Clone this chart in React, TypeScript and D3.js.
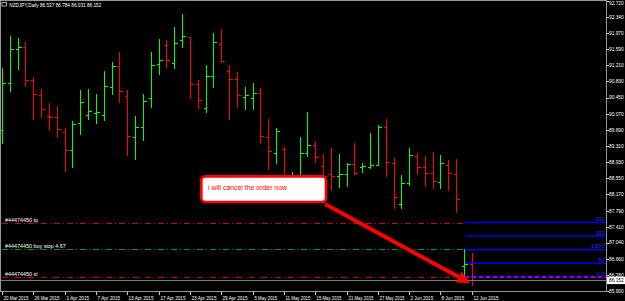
import React, { useEffect } from "react";
import * as d3 from "d3";

const title = "NZDJPY,Daily  86.537 86.784 86.031 86.152";
const opens = [89.686, 90.784, 91.584, 91.631, 90.855, 90.502, 90.015, 89.999, 89.632, 89.209, 89.858, 90.039, 90.086, 90.039, 90.705, 91.198, 90.493, 89.529, 89.750, 90.432, 91.238, 91.678, 91.255, 91.796, 91.866, 90.768, 90.197, 90.949, 91.716, 91.074, 90.879, 90.455, 90.432, 90.563, 89.529, 89.138, 89.239, 88.228, 88.463, 89.138, 89.326, 88.847, 88.640, 88.604, 88.644, 88.886, 88.809, 88.809, 88.870, 89.764, 88.910, 87.953, 88.447, 89.075, 88.816, 88.668, 88.456, 88.863, 88.651, 86.488, 86.537];
const highs = [91.137, 91.897, 91.850, 91.763, 90.926, 90.657, 90.321, 90.250, 89.733, 89.905, 90.627, 90.650, 90.526, 91.074, 91.278, 91.521, 90.627, 90.015, 90.533, 91.521, 91.819, 91.803, 92.101, 92.414, 91.880, 90.862, 91.208, 91.974, 92.062, 91.208, 91.050, 90.705, 90.784, 90.681, 89.952, 89.740, 89.293, 88.706, 89.515, 90.102, 89.420, 89.115, 89.270, 89.115, 88.910, 89.380, 88.910, 89.616, 89.804, 89.945, 89.021, 88.628, 89.263, 89.138, 89.075, 89.169, 89.098, 88.980, 89.004, 86.880, 86.784];
const lows = [89.387, 90.610, 91.114, 90.728, 89.938, 89.985, 89.693, 89.529, 88.729, 88.809, 89.592, 89.938, 89.858, 89.921, 90.540, 90.345, 89.105, 89.011, 89.451, 90.227, 90.996, 91.175, 91.151, 91.631, 90.446, 90.211, 90.117, 90.705, 91.292, 89.938, 90.234, 90.173, 90.180, 89.387, 88.762, 88.917, 88.087, 88.063, 88.322, 89.075, 88.934, 88.228, 88.275, 88.353, 88.376, 88.658, 88.706, 88.785, 88.863, 88.611, 87.859, 87.859, 88.393, 88.651, 88.369, 88.315, 88.315, 88.275, 87.765, 86.236, 86.031];
const closes = [90.784, 91.598, 91.631, 90.855, 90.526, 90.173, 89.999, 89.717, 89.209, 89.834, 90.338, 90.126, 90.102, 90.714, 91.198, 90.603, 89.538, 89.750, 90.361, 91.222, 91.325, 91.325, 91.732, 91.897, 90.768, 90.385, 90.963, 91.749, 91.309, 90.879, 90.516, 90.502, 90.563, 89.545, 89.199, 89.663, 88.228, 88.463, 89.138, 89.326, 89.058, 88.604, 88.616, 88.651, 88.886, 88.682, 88.832, 88.870, 89.764, 88.922, 88.117, 88.447, 89.091, 88.823, 88.668, 88.494, 88.903, 88.668, 88.056, 86.537, 86.152];

const dateLabels = ["20 Mar 2015", "26 Mar 2015", "1 Apr 2015", "7 Apr 2015", "13 Apr 2015", "17 Apr 2015", "23 Apr 2015", "29 Apr 2015", "5 May 2015", "11 May 2015", "15 May 2015", "21 May 2015", "27 May 2015", "2 Jun 2015", "8 Jun 2015", "12 Jun 2015"];
const priceTicks = [92.72, 92.34, 91.97, 91.59, 91.21, 90.83, 90.45, 90.07, 89.69, 89.31, 88.93, 88.55, 88.17, 87.79, 87.41, 87.04, 86.66, 86.28, 85.9];

const orderNames = ["#44474450 tp", "#44474450 buy stop 4.67", "#44474450 sl"];
const orderPrices = [87.492, 86.876, 86.222];
const orderColors = ["#d00000", "#00a000", "#d00000"];

const fibLevels = [0, 50, 100, 150, 200];
const fibLabels = ["0.0", "50", "100.0", "150", "200"];
const fibAnchors = [86.229, 86.871];

const bidPrice = 86.152;
const note = "i will cancel the order now";

const W = 625, H = 301;
const FONT = "'Liberation Sans', Arial, sans-serif";

export default function App() {
  useEffect(() => {
    document.body.style.margin = "0";
    document.body.style.background = "#000";
  }, []);

  const x = d3.scaleLinear().domain([0, 60]).range([2, 471.8]);
  const y = d3.scaleLinear().domain([85.9, 92.72]).range([291, 1]);
  const sx = (i: number) => Math.round(x(i)) + 0.5;
  const sy = (p: number) => Math.round(y(p)) + 0.5;

  const axisX = 606.5;
  const bottomY = 291.5;
  const fibStart = x(59) + 1;
  const fibPrice = (lvl: number) => fibAnchors[0] + (lvl / 100) * (fibAnchors[1] - fibAnchors[0]);

  const ax0 = 325, ay0 = 204;
  const ax1 = x(59.8), ay1 = y(86.08);
  const ang = Math.atan2(ay1 - ay0, ax1 - ax0);
  const headL = 13, headW = 6;
  const bx = ax1 - headL * Math.cos(ang), by = ay1 - headL * Math.sin(ang);
  const head = [
    [ax1, ay1],
    [bx + headW * Math.sin(ang), by - headW * Math.cos(ang)],
    [bx - headW * Math.sin(ang), by + headW * Math.cos(ang)],
  ];

  return (
    <svg width={W} height={H} style={{ display: "block", background: "#000" }} fontFamily={FONT}>
      <rect x={0} y={0} width={W} height={H} fill="#000" />
      <line x1={0} x2={axisX} y1={0.5} y2={0.5} stroke="#9a9a9a" />
      <line x1={0.5} x2={0.5} y1={0} y2={bottomY} stroke="#9a9a9a" />
      <line x1={0} x2={axisX} y1={bottomY} y2={bottomY} stroke="#9a9a9a" />
      <line x1={axisX} x2={axisX} y1={0} y2={bottomY} stroke="#9a9a9a" />

      <rect x={2} y={2.5} width={4.5} height={3.5} fill="none" stroke="#d0d0d0" strokeWidth={0.8} />
      <text x={9.3} y={6.6} fontSize={5.6} fill="#ffffff" textLength={92} lengthAdjust="spacingAndGlyphs">{title}</text>

      <g shapeRendering="crispEdges">
        {opens.map((o, i) => {
          const c = closes[i];
          const col = c >= o ? "#00ff00" : "#ff0000";
          const px = sx(i);
          return (
            <g key={i} stroke={col} strokeWidth={1}>
              <line x1={px} x2={px} y1={Math.round(y(highs[i]))} y2={Math.round(y(lows[i])) + 1} />
              <line x1={px - 3} x2={px} y1={sy(o)} y2={sy(o)} />
              <line x1={px} x2={px + 3} y1={sy(c)} y2={sy(c)} />
            </g>
          );
        })}
      </g>

      {orderPrices.map((p, i) => (
        <g key={i}>
          <line x1={2} x2={fibStart} y1={sy(p)} y2={sy(p)} stroke={orderColors[i]} strokeDasharray="6,3,1,3" shapeRendering="crispEdges" />
          <text x={5} y={sy(p) - 2} fontSize={5.4} fill="#ffffff">{orderNames[i]}</text>
        </g>
      ))}

      {fibLevels.map((lvl, i) => {
        const py = y(fibPrice(lvl));
        return (
          <g key={i}>
            <line x1={fibStart} x2={axisX - 0.5} y1={py} y2={py} stroke="#0000e6" strokeWidth={1.5} />
            <text x={604.5} y={py - 1.5} fontSize={5.4} fill="#2a2aff" textAnchor="end">{fibLabels[i]}</text>
          </g>
        );
      })}
      <line x1={fibStart} x2={axisX - 0.5} y1={y(fibPrice(0))} y2={y(fibPrice(0))} stroke="#e000c8" strokeWidth={1.5} strokeDasharray="4,3" />
      <line x1={fibStart} x2={x(61)} y1={y(fibPrice(100))} y2={y(fibPrice(0))} stroke="#2a2aff" strokeWidth={0.8} strokeDasharray="1,2" />

      <line x1={1} x2={axisX} y1={sy(bidPrice)} y2={sy(bidPrice)} stroke="#7a7a7a" shapeRendering="crispEdges" />

      <rect x={201.3} y={176.3} width={124.7} height={25.7} rx={4} ry={4} fill="#ffffff" stroke="#ff0000" strokeWidth={2.7} />
      <text x={208} y={189.5} fontSize={7.2} fill="#ff0000" textLength={79} lengthAdjust="spacingAndGlyphs">{note}</text>

      <line x1={ax0} y1={ay0} x2={bx} y2={by} stroke="#ff0000" strokeWidth={4} />
      <polygon points={head.map((p) => p.join(",")).join(" ")} fill="#ff0000" />

      {priceTicks.map((p, i) => (
        <g key={i}>
          <line x1={axisX} x2={axisX + 2.5} y1={sy(p)} y2={sy(p)} stroke="#cfcfcf" shapeRendering="crispEdges" />
          <text x={609} y={Math.max(y(p) + 1.9, 4.6)} fontSize={5.3} fill="#ffffff" textLength={14.7} lengthAdjust="spacingAndGlyphs">{p.toFixed(3)}</text>
        </g>
      ))}
      <rect x={607} y={y(bidPrice) - 3.6} width={18} height={7.4} fill="#ffffff" />
      <text x={609} y={y(bidPrice) + 1.9} fontSize={5.3} fill="#000000" textLength={14.7} lengthAdjust="spacingAndGlyphs">{bidPrice.toFixed(3)}</text>

      {dateLabels.map((d, i) => {
        const px = sx(i * 4);
        return (
          <g key={i}>
            <line x1={px} x2={px} y1={bottomY} y2={bottomY + 3.5} stroke="#cfcfcf" shapeRendering="crispEdges" />
            <text x={px + 1} y={299.6} fontSize={5.3} fill="#ffffff" textLength={d.length * 2.27} lengthAdjust="spacingAndGlyphs">{d}</text>
          </g>
        );
      })}
    </svg>
  );
}
